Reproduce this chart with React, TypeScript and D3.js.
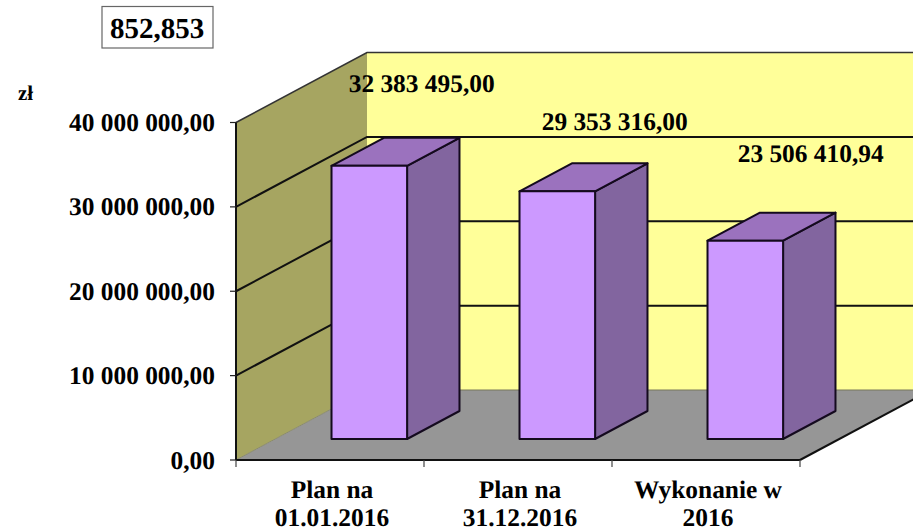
import React from "react";
import * as d3 from "d3";

const categories = [["Plan na", "01.01.2016"], ["Plan na", "31.12.2016"], ["Wykonanie w", "2016"]];
const values = [32383495.0, 29353316.0, 23506410.94];
const valueLabels = ["32 383 495,00", "29 353 316,00", "23 506 410,94"];
const axisTicks = [0, 10000000, 20000000, 30000000, 40000000];
const tickLabels = ["0,00", "10 000 000,00", "20 000 000,00", "30 000 000,00", "40 000 000,00"];
const unitLabel = "zł";
const boxLabel = "852,853";

const W = 913, H = 529;
const FONT = "'Liberation Serif', 'Times New Roman', serif";
const INK = "#140a1e";

const y = d3.scaleLinear().domain([0, 40000000]).range([460, 122.5]);
const x = d3.scaleBand<number>().domain([0, 1, 2]).range([236, 800]);
const depthX = d3.scaleLinear().domain([0, 1]).range([0, 131]);
const depthY = d3.scaleLinear().domain([0, 1]).range([0, -70]);

// depth fractions: where a bar starts and ends in the 3D floor
const barDepthStart = 0.3, barDepthEnd = 0.7;
const barWidthFraction = 0.402;
// hand-placed data label offsets in the reference
const labelDx = [0, 5, 13];
const labelBaseline = [92, 130, 162];

const poly = (pts: [number, number][]) => d3.line()(pts)! + "Z";

export default function App() {
  const x0 = x.range()[0], x1 = x.range()[1], yB = y(0), yT = y(40000000);
  const bx = depthX(1), by = depthY(1);
  return (
    <svg width={W} height={H} viewBox={`0 0 ${W} ${H}`}
      style={{ position: "absolute", left: 0, top: 0, background: "#fff" }}
      fontFamily={FONT} fontWeight="bold" fill="#000" textRendering="geometricPrecision">
      {/* back wall */}
      <path d={poly([[x0 + bx, yT + by], [x1 + bx, yT + by], [x1 + bx, yB + by], [x0 + bx, yB + by]])} fill="#ffff99" />
      {/* left wall */}
      <path d={poly([[x0, yT], [x0 + bx, yT + by], [x0 + bx, yB + by], [x0, yB]])} fill="#a6a561" />
      {/* floor */}
      <path d={poly([[x0, yB], [x1, yB], [x1 + bx, yB + by], [x0 + bx, yB + by]])} fill="#969696" />
      <line x1={x0} y1={yB} x2={x0 + bx} y2={yB + by} stroke="#8a8a70" strokeWidth={1} />
      <line x1={x0 + bx} y1={yB + by} x2={x1 + bx} y2={yB + by} stroke="#77775a" strokeWidth={1} />

      {/* gridlines */}
      {axisTicks.slice(1).map((t) => (
        <polyline key={t} fill="none" stroke={t === 40000000 ? "#333" : "#111"} strokeWidth={t === 40000000 ? 1.6 : 2}
          points={[[x0, y(t)], [x0 + bx, y(t) + by], [x1 + bx, y(t) + by]].join(" ")} />
      ))}

      {/* axes */}
      <line x1={x0} y1={yT} x2={x0} y2={yB} stroke="#111" strokeWidth={2} />
      <line x1={x0} y1={yB} x2={x1} y2={yB} stroke="#111" strokeWidth={2} />
      <line x1={x1} y1={yB} x2={x1 + bx} y2={yB + by} stroke="#111" strokeWidth={2} />
      {axisTicks.map((t, i) => (
        <g key={t}>
          <line x1={x0 - 6} y1={y(t)} x2={x0} y2={y(t)} stroke="#222" strokeWidth={1.2} />
          <text x={215} y={y(t) + 8.5} textAnchor="end" fontSize={25.4}>{tickLabels[i]}</text>
        </g>
      ))}
      {d3.range(4).map((i) => {
        const tx = x0 + (i * (x1 - x0)) / 3;
        return <line key={i} x1={tx} y1={yB} x2={tx} y2={yB + 7} stroke="#444" strokeWidth={1.2} />;
      })}

      {/* bars */}
      {values.map((v, i) => {
        const bw = x.bandwidth() * barWidthFraction;
        const c = x(i)! + x.bandwidth() / 2;
        const xl = c - bw / 2 + depthX(barDepthStart);
        const xr = xl + bw;
        const off = depthY(barDepthStart);
        const yb = y(0) + off;
        const yt = y(v) + off;
        const ddx = depthX(barDepthEnd - barDepthStart);
        const ddy = depthY(barDepthEnd - barDepthStart);
        return (
          <g key={i} stroke={INK} strokeWidth={2} strokeLinejoin="round">
            <path d={poly([[xr, yt], [xr + ddx, yt + ddy], [xr + ddx, yb + ddy], [xr, yb]])} fill="#82659f" />
            <path d={poly([[xl, yt], [xr, yt], [xr + ddx, yt + ddy], [xl + ddx, yt + ddy]])} fill="#9b72be" />
            <path d={poly([[xl, yt], [xr, yt], [xr, yb], [xl, yb]])} fill="#cc99ff" />
          </g>
        );
      })}

      {/* data labels */}
      {values.map((v, i) => {
        const c = x(i)! + x.bandwidth() / 2;
        return (
          <text key={i} x={c + depthX(0.7) + labelDx[i]} y={labelBaseline[i]} textAnchor="middle" fontSize={25.4}>
            {valueLabels[i]}
          </text>
        );
      })}

      {/* category labels */}
      {categories.map((lines, i) => (
        <text key={i} textAnchor="middle" fontSize={25.4}>
          {lines.map((l, k) => (
            <tspan key={k} x={x(i)! + x.bandwidth() / 2 + 2} y={498 + k * 28}>{l}</tspan>
          ))}
        </text>
      ))}

      {/* unit + box */}
      <text x={18} y={100} fontSize={21}>{unitLabel}</text>
      <rect x={102} y={6.5} width={111} height={41.5} fill="#fff" stroke="#666" strokeWidth={1.2} />
      <text x={157} y={38} textAnchor="middle" fontSize={29}>{boxLabel}</text>
    </svg>
  );
}
